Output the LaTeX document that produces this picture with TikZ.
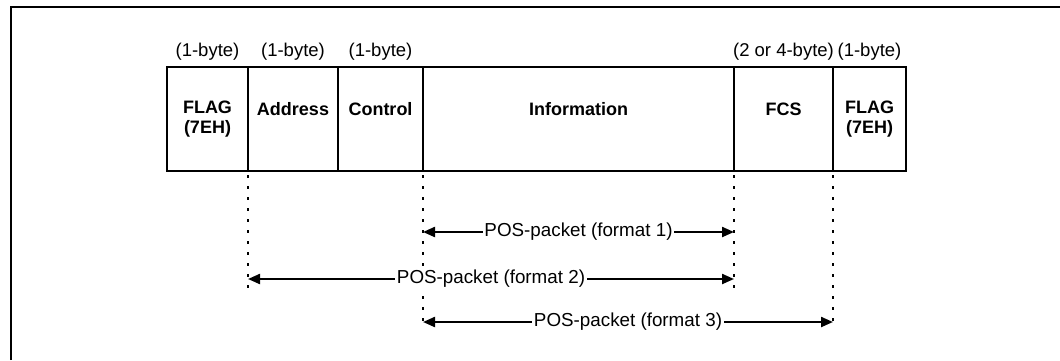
\documentclass[tikz,border=0pt]{standalone}
\usepackage{fontspec}
\setmainfont{Liberation Sans}
\usepackage{tikz}
\usetikzlibrary{arrows.meta, positioning}
\tikzstyle{field} = [rectangle, draw=black, line width=2.2pt, outer sep=0pt, inner sep=0pt, minimum height=104pt, text centered, align=center, font=\fontsize{18pt}{20pt}\selectfont\bfseries]
\tikzstyle{bytes} = [inner sep=0pt, anchor=base, font=\fontsize{18.5pt}{20pt}\selectfont]
\tikzstyle{guide} = [line width=2.2pt, dash pattern=on 3pt off 8pt, dash phase=7pt]
\tikzstyle{span} = [line width=2.2pt, {Triangle[length=12pt,width=10pt]}-{Triangle[length=12pt,width=10pt]}]
\tikzstyle{spanlabel} = [fill=white, inner sep=1.5pt, font=\fontsize{18.8pt}{20pt}\selectfont]

\begin{document}
\begin{tikzpicture}[x=1pt, y=-1pt]
    \useasboundingbox (0,0) rectangle (1060,360);
    \coordinate (frameA) at (11,360);
    \coordinate (frameB) at (1060,7);
    \draw [line width=2.2pt] (frameA) |- (frameB);

    % frame fields
    \node (flagA) [field, minimum width=81pt] at (207.5,119) {FLAG\\(7EH)};
    \node (addr) [field, minimum width=90pt, right=0pt of flagA] {Address\\\mbox{}};
    \node (ctrl) [field, minimum width=85pt, right=0pt of addr] {Control\\\mbox{}};
    \node (info) [field, minimum width=311pt, right=0pt of ctrl] {Information\\\mbox{}};
    \node (fcs) [field, minimum width=99pt, right=0pt of info] {FCS\\\mbox{}};
    \node (flagB) [field, minimum width=73pt, right=0pt of fcs] {FLAG\\(7EH)};

    % sizes
    \node (szflagA) [bytes] at ([yshift=11pt]flagA.north) {(1-byte)};
    \node (szaddr) [bytes] at ([yshift=11pt]addr.north) {(1-byte)};
    \node (szctrl) [bytes] at ([yshift=11pt]ctrl.north) {(1-byte)};
    \node (szfcs) [bytes] at ([yshift=11pt]fcs.north) {(2 or 4-byte)};
    \node (szflagB) [bytes] at ([yshift=11pt]flagB.north) {(1-byte)};

    % rows of the packet spans
    \coordinate (row1) at (0,232);
    \coordinate (row2) at (0,279);
    \coordinate (row3) at (0,322);
    \coordinate (low2) at (0,293);
    \coordinate (low3) at (0,323);

    \draw [guide] (addr.south west) -- (addr.south west |- low2);
    \draw [guide] (info.south west) -- (info.south west |- low3);
    \draw [guide] (info.south east) -- (info.south east |- low2);
    \draw [guide] (fcs.south east) -- (fcs.south east |- low3);

    \draw [span] (info.south west |- row1) -- node[spanlabel] {POS-packet (format 1)} (info.south east |- row1);
    \draw [span] (addr.south west |- row2) -- node[spanlabel] {POS-packet (format 2)} (info.south east |- row2);
    \draw [span] (info.south west |- row3) -- node[spanlabel] {POS-packet (format 3)} (fcs.south east |- row3);
\end{tikzpicture}
\end{document}
